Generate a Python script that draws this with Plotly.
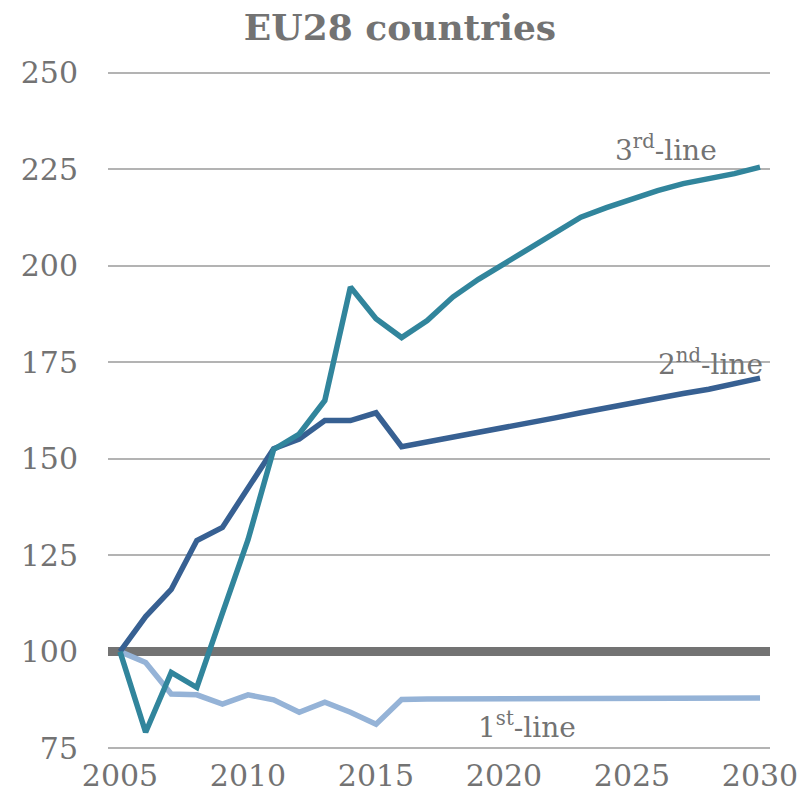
import plotly.graph_objects as go

years = list(range(2005, 2031))

first_line = [100.0, 97.2, 89.0, 88.8, 86.4, 88.8, 87.5, 84.3, 86.9, 84.3, 81.2,
              87.6, 87.7, 87.7, 87.7, 87.8, 87.8, 87.8, 87.8, 87.9, 87.9, 87.9,
              87.9, 88.0, 88.0, 88.0]
second_line = [100.0, 109.1, 116.1, 128.8, 132.2, 142.6, 152.6, 155.1, 159.9, 159.9,
               161.9, 153.1, 154.3, 155.5, 156.7, 158.0, 159.3, 160.6, 161.9, 163.2,
               164.5, 165.7, 166.9, 168.0, 169.5, 170.9]
third_line = [100.0, 79.1, 94.6, 90.7, 110.0, 129.0, 152.4, 156.4, 165.1, 194.5,
              186.3, 181.4, 185.8, 191.9, 196.5, 200.6, 204.8, 208.5, 212.6, 215.1,
              217.4, 219.5, 221.3, 222.5, 223.9, 225.6]

baseline_value = 100
x_range = [2004.53, 2030.39]
y_range = [74.5, 250.5]
y_ticks = [75, 100, 125, 150, 175, 200, 225, 250]
x_ticks = [2005, 2010, 2015, 2020, 2025, 2030]

labels = ["1<sup>st</sup>-line", "2<sup>nd</sup>-line", "3<sup>rd</sup>-line"]
label_pos = [(2020.9, 80.8), (2030.2, 174.9), (2028.4, 230.4)]
label_anchor = ["center", "right", "right"]
colors = ["#95B3D7", "#376092", "#31859C"]
grey = "#737373"

fig = go.Figure()

fig.add_trace(go.Scatter(x=x_range, y=[baseline_value, baseline_value], mode="lines",
                         line=dict(color=grey, width=9), cliponaxis=True,
                         showlegend=False, hoverinfo="skip"))

for vals, col in zip([first_line, second_line, third_line], colors):
    fig.add_trace(go.Scatter(x=years, y=vals, mode="lines",
                             line=dict(color=col, width=5.5),
                             showlegend=False, hoverinfo="skip"))

for txt, (lx, ly), anchor in zip(labels, label_pos, label_anchor):
    fig.add_annotation(x=lx, y=ly, text=txt, showarrow=False,
                       xanchor=anchor, yanchor="middle",
                       font=dict(family="DejaVu Serif", size=28, color=grey))

fig.update_layout(
    width=808, height=792,
    margin=dict(l=108, r=38, t=71, b=42, autoexpand=False),
    paper_bgcolor="white", plot_bgcolor="white",
    title=dict(text="<b>EU28 countries</b>", x=0.495, xanchor="center",
               y=0.965, yanchor="middle",
               font=dict(family="DejaVu Serif", size=36, color=grey)),
    xaxis=dict(range=x_range, tickvals=x_ticks, showgrid=False, automargin=False,
               zeroline=False, showline=False, ticks="",
               ticklabelstandoff=5,
               tickfont=dict(family="DejaVu Serif", size=30, color=grey)),
    yaxis=dict(range=y_range, tickvals=y_ticks, showgrid=True, automargin=False,
               gridcolor="#B3B3B3", gridwidth=1.5, zeroline=False,
               showline=False, ticks="", ticklabelstandoff=29,
               tickfont=dict(family="DejaVu Serif", size=30, color=grey)),
)

fig.write_html("out.html", config={"displayModeBar": False},
               post_script="document.body.style.margin='0';document.body.style.overflow='hidden';")
